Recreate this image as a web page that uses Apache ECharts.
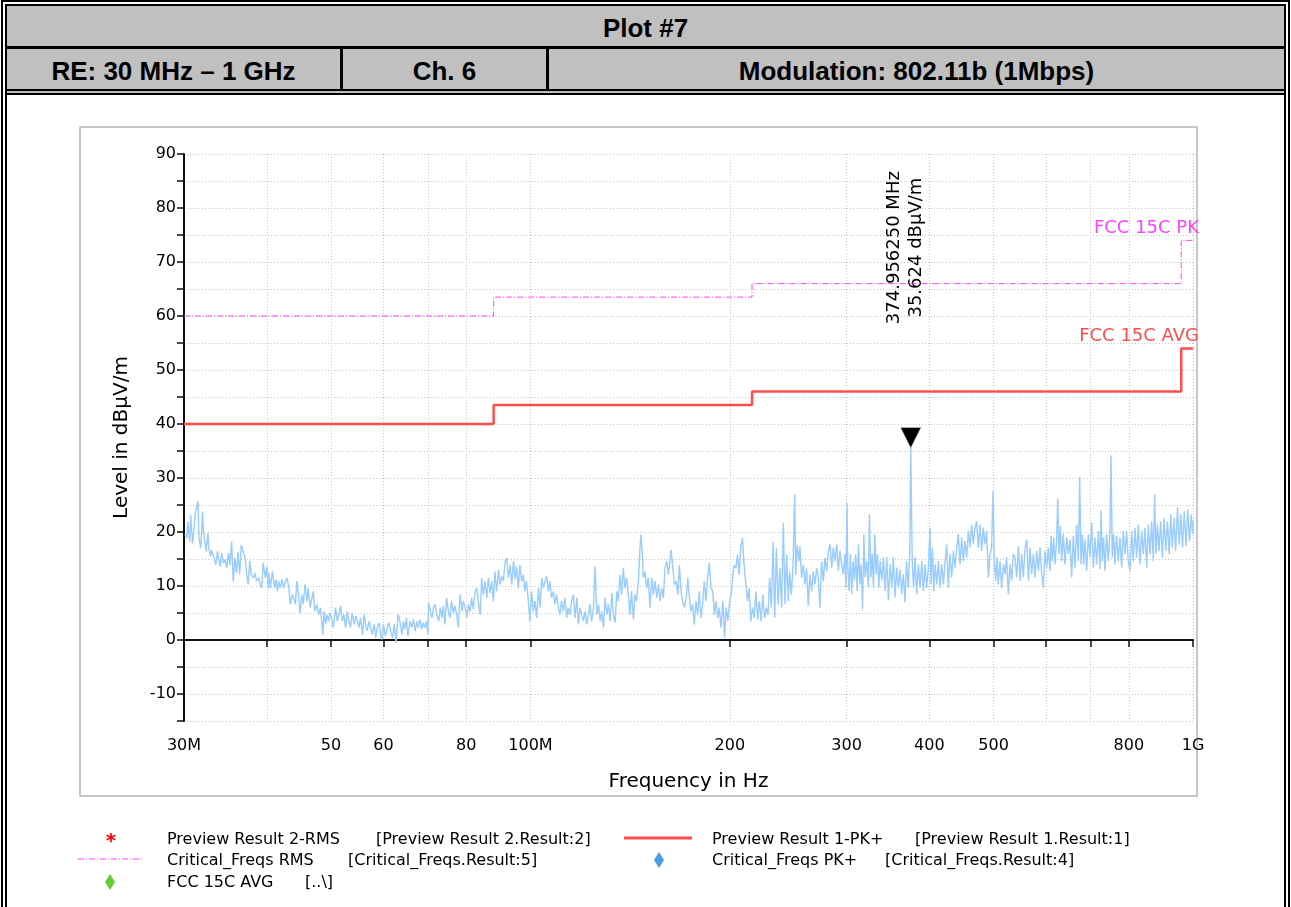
<!DOCTYPE html>
<html>
<head>
<meta charset="utf-8">
<title>Plot #7</title>
<script src="https://cdn.jsdelivr.net/npm/echarts@6/dist/echarts.min.js"></script>
<style>
  html, body { margin: 0; padding: 0; background: #fff; }
  #page { position: relative; width: 1291px; height: 907px; overflow: hidden; }
  #chart { position: absolute; left: 0; top: 0; width: 1291px; height: 907px; }
  #frame {
    position: absolute; left: 1px; top: 0; width: 1277px; height: 930px;
    border: 6px double #000; border-bottom: none; pointer-events: none;
    font-family: 'Liberation Sans', Arial, sans-serif; font-weight: bold; font-size: 26px; color: #000;
  }
  .row1 { height: 40px; line-height: 44px; background: #c0c0c0; text-align: center; border-bottom: 3px solid #000; }
  .row2 { display: flex; height: 40px; background: #c0c0c0; border-bottom: 6px double #000; }
  .cell { line-height: 44px; text-align: center; border-right: 3px solid #000; box-sizing: border-box; }
  .cell.last { border-right: none; flex: 1; }
</style>
</head>
<body>
<div id="page">
  <div id="chart"></div>
  <div id="frame">
    <div class="row1">Plot #7</div>
    <div class="row2">
      <div class="cell" style="width:336px">RE: 30 MHz – 1 GHz</div>
      <div class="cell" style="width:206px">Ch. 6</div>
      <div class="cell last">Modulation: 802.11b (1Mbps)</div>
    </div>
  </div>
</div>
<script>
// spectrum, [MHz, dBuV/m]
var spec30to63 = [
  [30.1,19.5],[30.3,18.9],[30.4,21.9],[30.6,18.2],[30.7,23.2],[30.9,17.9],[31.1,21.3],[31.2,23.5],[31.4,23.8],[31.5,25.7],
  [31.6,18.9],[31.8,17.0],[32.0,23.8],[32.1,20.1],[32.2,18.9],[32.4,16.4],[32.6,19.8],[32.7,17.0],[32.9,15.5],[33.0,16.7],
  [33.1,16.1],[33.3,15.2],[33.5,13.9],[33.7,16.4],[34.0,13.6],[34.2,16.1],[34.4,14.3],[34.6,14.9],[34.8,13.3],[35.0,16.1],
  [35.2,13.9],[35.4,18.2],[35.6,10.9],[35.8,15.2],[36.0,12.4],[36.2,16.4],[36.4,12.1],[36.6,17.6],[36.8,17.6],[37.1,15.2],
  [37.3,12.1],[37.5,10.3],[37.7,14.6],[37.9,12.1],[38.2,11.5],[38.4,12.4],[38.6,10.9],[38.9,11.5],[39.1,10.3],[39.3,9.6],
  [39.5,14.3],[39.8,11.5],[40.0,13.6],[40.2,9.6],[40.3,12.4],[40.5,9.6],[40.8,12.7],[41.1,9.6],[41.3,11.2],[41.5,9.0],
  [41.7,10.9],[41.9,9.6],[42.2,11.2],[42.4,9.6],[42.7,10.9],[42.9,11.5],[43.2,9.6],[43.4,6.6],[43.7,8.4],[43.9,7.8],
  [44.2,6.6],[44.4,10.9],[44.7,7.8],[44.9,5.0],[45.2,8.4],[45.4,6.6],[45.7,10.3],[46.0,7.2],[46.2,9.6],[46.5,6.0],
  [46.8,7.8],[47.0,9.0],[47.3,5.3],[47.6,6.6],[47.9,4.7],[48.2,6.0],[48.4,3.5],[48.6,1.0],[48.8,5.3],[49.1,2.9],
  [49.3,4.7],[49.6,3.5],[49.8,5.0],[50.1,4.1],[50.4,2.3],[50.8,6.0],[51.1,3.5],[51.4,4.7],[51.7,6.3],[52.0,3.5],
  [52.3,4.7],[52.6,2.3],[52.9,5.3],[53.2,3.5],[53.5,2.3],[53.8,5.0],[54.2,2.9],[54.5,4.4],[54.8,3.5],[55.1,2.3],
  [55.4,4.1],[55.8,1.0],[56.1,4.7],[56.4,2.9],[56.7,1.7],[57.1,3.5],[57.4,2.3],[57.7,1.0],[58.1,2.9],[58.4,0.4],
  [58.7,2.3],[59.1,3.2],[59.4,1.0],[59.7,0.1],[60.0,2.9],[60.4,0.7],[60.8,2.3],[61.1,3.2],[61.6,1.4],[61.9,0.4],
  [62.3,2.9],[62.7,-0.5],[63.1,4.7],[63.4,4.1]
];
var spec64to134 = [
  [64.0,1.0],[64.3,3.5],[64.6,2.0],[65.0,4.1],[65.3,0.7],[65.8,3.5],[66.2,2.3],[66.6,3.8],[67.0,1.7],[67.4,3.5],
  [67.7,2.3],[68.1,3.8],[68.5,2.0],[68.9,3.2],[69.3,2.3],[69.7,3.5],[70.0,1.0],[70.2,6.9],[70.6,5.3],[71.0,4.1],
  [71.4,6.0],[71.8,6.6],[72.2,4.7],[72.7,3.5],[73.1,6.0],[73.5,4.1],[73.9,6.3],[74.3,2.9],[74.7,7.8],[75.2,5.3],
  [75.6,4.1],[76.0,7.2],[76.5,5.0],[76.9,6.3],[77.4,4.7],[77.8,2.3],[78.3,8.4],[78.8,5.3],[79.2,7.2],[79.7,6.0],
  [80.2,4.1],[80.6,6.6],[81.1,5.3],[81.5,7.8],[82.0,5.7],[82.5,9.0],[83.0,9.6],[83.5,6.6],[84.0,4.7],[84.4,11.5],
  [84.9,8.4],[85.4,10.9],[85.9,7.8],[86.4,11.5],[86.9,8.7],[87.4,10.9],[87.9,7.2],[88.4,12.7],[88.9,9.0],[89.5,13.0],
  [90.0,10.3],[90.5,11.8],[91.0,10.9],[91.6,14.6],[92.1,15.2],[92.6,11.5],[93.2,13.9],[93.7,10.3],[94.3,14.6],[94.8,11.2],
  [95.3,13.6],[95.9,9.6],[96.4,13.9],[97.0,10.9],[97.5,12.1],[98.1,9.0],[98.6,10.9],[99.2,7.8],[99.8,3.5],[100.4,9.0],
  [101.0,5.3],[101.6,7.2],[102.2,4.1],[102.8,9.6],[103.4,6.0],[104.0,11.5],[104.6,9.6],[105.2,10.9],[105.8,11.8],[106.4,9.0],
  [107.0,10.9],[107.6,7.8],[108.3,9.0],[108.9,6.6],[109.5,8.4],[110.2,6.0],[110.8,4.7],[111.4,7.2],[112.1,5.3],[112.7,7.8],
  [113.4,4.1],[114.0,6.0],[114.7,4.7],[115.4,7.2],[116.1,8.4],[116.8,4.1],[117.5,7.8],[118.1,2.9],[118.8,6.0],[119.5,4.7],
  [120.2,3.5],[120.9,5.3],[121.6,2.9],[122.3,4.7],[123.0,6.6],[123.7,3.5],[124.5,6.0],[125.2,13.6],[125.9,4.7],[126.7,6.6],
  [127.4,3.5],[128.1,5.3],[128.9,2.3],[129.6,7.8],[130.4,4.7],[131.1,6.6],[131.9,3.5],[132.7,8.7],[133.4,4.7]
];
var spec134to282 = [
  [134.2,3.2],[135.0,9.0],[135.7,7.2],[136.5,12.1],[137.3,8.4],[138.1,13.3],[138.9,9.6],[139.7,11.5],[140.5,8.4],[141.3,4.7],
  [142.1,9.0],[143.0,3.8],[143.8,8.4],[144.6,7.2],[145.5,10.9],[146.3,17.0],[146.8,19.5],[147.5,15.8],[148.0,11.5],[148.9,12.7],
  [149.8,9.6],[150.6,11.5],[151.5,6.0],[152.4,11.5],[153.3,8.4],[154.2,10.9],[155.1,7.8],[156.0,10.3],[156.9,7.2],[157.8,9.6],
  [158.7,7.8],[159.6,13.3],[160.6,14.6],[161.5,12.1],[162.4,14.6],[163.0,16.7],[163.9,13.9],[164.9,10.3],[165.9,10.9],[166.9,8.4],
  [167.8,13.9],[168.8,9.0],[169.8,7.2],[170.8,6.0],[171.8,7.8],[172.8,11.5],[173.8,7.8],[174.7,5.3],[175.7,6.6],[176.7,2.9],
  [177.8,7.2],[178.8,4.7],[179.8,9.0],[180.8,4.1],[181.9,6.6],[182.9,10.9],[184.0,7.2],[185.1,11.5],[186.2,14.3],[187.3,9.6],
  [188.4,9.0],[189.5,4.7],[190.6,7.2],[191.7,4.1],[192.8,6.0],[193.9,2.3],[195.2,7.2],[196.3,0.4],[197.4,6.0],[198.6,3.5],
  [199.8,7.2],[200.9,8.4],[202.0,12.1],[203.1,13.9],[204.2,13.3],[205.4,15.8],[206.5,12.1],[207.7,17.0],[208.9,18.9],[210.1,13.9],
  [211.4,10.3],[212.6,7.2],[213.8,9.6],[215.1,3.5],[216.3,6.0],[217.6,4.1],[218.9,9.0],[220.2,3.8],[221.5,7.2],[222.9,3.5],
  [224.2,8.4],[225.6,4.1],[226.9,6.0],[228.3,4.7],[229.6,11.5],[231.0,6.0],[232.4,18.2],[233.7,4.1],[235.1,17.0],[236.5,6.6],
  [237.9,13.3],[239.4,6.0],[240.8,21.6],[242.2,6.6],[243.6,15.8],[245.0,7.2],[246.1,12.7],[247.6,8.4],[249.1,13.9],[250.5,27.0],
  [251.4,12.1],[252.6,17.6],[254.1,14.6],[255.1,17.3],[256.6,11.5],[258.1,13.9],[259.6,10.3],[261.1,13.3],[262.6,6.3],[264.1,12.1],
  [265.7,9.0],[267.2,12.7],[268.8,10.3],[270.4,13.3],[271.9,11.5],[273.5,6.0],[275.1,14.6],[276.7,10.9],[278.3,15.2],[280.0,12.7],
  [281.6,16.4]
];
var spec283to536 = [
  [283.2,17.7],[284.9,13.4],[286.5,17.1],[288.2,14.6],[289.9,17.7],[291.5,12.8],[293.2,16.5],[294.9,14.0],[296.6,12.2],[298.3,15.9],
  [299.3,9.7],[300.4,25.4],[301.1,14.6],[302.5,9.1],[304.0,15.9],[305.4,8.5],[306.8,14.6],[308.3,11.0],[309.7,15.9],[311.2,9.1],
  [312.7,17.7],[314.1,10.3],[315.6,14.0],[317.1,5.7],[318.6,19.6],[319.9,11.6],[321.8,14.6],[323.7,9.7],[324.8,23.3],[326.4,11.6],
  [327.9,15.9],[329.4,9.7],[330.9,19.6],[332.5,12.2],[334.0,15.9],[335.6,9.7],[337.1,14.6],[339.1,11.0],[341.0,15.3],[343.0,9.1],
  [345.0,15.3],[347.0,7.3],[349.0,14.0],[351.0,9.7],[353.0,15.3],[355.0,7.9],[357.1,13.4],[359.1,9.7],[361.2,13.1],[363.3,8.5],
  [365.4,12.2],[367.5,7.0],[369.6,14.6],[371.7,9.7],[373.8,16.5],[374.956,35.624],[376.9,14.6],[378.7,9.7],[380.6,15.3],[382.8,8.5],
  [385.1,14.0],[387.3,9.7],[389.6,14.6],[391.8,9.1],[394.1,14.0],[396.4,9.7],[398.7,13.4],[400.9,20.8],[402.3,10.3],[404.3,17.1],
  [406.2,9.1],[408.1,14.0],[410.5,10.3],[412.8,14.6],[415.2,9.7],[417.6,14.0],[420.1,10.3],[422.5,14.6],[424.9,17.7],[427.3,9.7],
  [429.7,15.9],[432.2,11.6],[434.8,16.5],[437.3,13.4],[439.9,17.1],[442.4,19.6],[445.0,14.0],[447.6,19.0],[450.2,14.6],[452.8,18.4],
  [455.4,15.3],[458.1,20.2],[460.7,17.1],[463.4,21.4],[466.0,17.7],[468.7,20.8],[471.5,22.0],[474.2,17.1],[477.0,21.4],[479.8,16.5],
  [482.5,20.8],[485.3,17.7],[488.1,20.2],[491.0,11.6],[493.9,15.9],[496.7,17.1],[499.0,27.6],[501.3,14.6],[503.7,11.0],[506.0,15.3],
  [508.3,10.3],[511.3,14.6],[514.3,9.7],[517.3,14.0],[520.3,12.2],[523.2,15.3],[526.3,8.5],[529.4,14.0],[532.5,11.0],[535.6,15.9]
];
var spec539to1000 = [
  [538.7,15.3],[541.9,11.6],[545.1,17.4],[548.3,11.0],[551.4,15.9],[554.6,11.6],[557.8,16.8],[561.1,18.6],[564.4,11.0],[567.6,17.1],
  [570.9,12.2],[574.2,15.9],[577.5,11.6],[580.9,16.5],[584.3,12.8],[587.7,17.1],[591.1,12.2],[594.5,9.7],[597.9,16.5],[601.4,13.4],
  [604.9,17.1],[608.5,12.8],[610.6,19.3],[613.4,14.6],[616.2,19.0],[619.0,14.0],[622.6,18.4],[624.8,26.2],[627.7,15.9],[630.6,21.1],
  [633.6,14.6],[637.2,19.6],[640.9,14.0],[644.7,19.0],[648.4,15.9],[652.2,18.6],[655.9,11.6],[659.7,19.3],[663.5,13.4],[667.4,21.4],
  [671.3,14.6],[674.5,30.2],[677.6,14.0],[680.7,19.6],[683.9,14.0],[687.0,18.6],[691.1,12.8],[695.1,19.6],[699.2,15.3],[703.2,21.7],
  [707.3,13.4],[711.3,19.0],[715.5,14.0],[719.7,20.2],[723.8,13.1],[726.3,24.0],[729.7,14.6],[733.0,19.0],[736.4,12.8],[740.7,19.6],
  [745.1,14.6],[749.4,20.2],[752.0,34.2],[755.5,15.3],[759.0,19.6],[762.4,14.0],[766.9,19.3],[771.4,14.6],[775.9,19.0],[780.4,13.4],
  [784.9,20.2],[789.4,15.9],[794.0,20.2],[798.7,14.6],[803.3,12.8],[808.0,20.2],[812.6,14.6],[817.3,20.8],[822.1,15.3],[826.9,21.4],
  [831.8,14.0],[836.6,20.2],[841.4,15.9],[846.2,20.8],[851.2,13.4],[856.2,21.4],[861.2,15.9],[866.1,22.0],[871.1,14.6],[875.1,27.0],
  [879.2,15.9],[883.4,21.4],[888.5,16.5],[893.7,22.0],[898.9,15.3],[904.5,22.6],[909.8,16.5],[915.1,22.0],[920.5,15.9],[925.8,23.3],
  [930.6,17.1],[936.4,22.6],[941.3,16.5],[947.7,24.6],[953.2,17.7],[958.8,23.3],[964.3,17.1],[970.1,23.9],[976.0,17.4],[982.0,24.2],
  [987.9,18.3],[994.0,23.3],[998.7,19.6],[1000,22.0]
];

// FCC 15C limits (step lines)
var limitMHz = [30, 88, 88, 216, 216, 960, 960, 1000];
var avgLimit = [40, 40, 43.5, 43.5, 46, 46, 54, 54];
var pkLimit = [60, 60, 63.5, 63.5, 66, 66, 74, 74];

// peak marker
var markerMHz = 374.95625;
var markerDb = 35.624;

// axis ticks
var xTickMHz = [30, 40, 50, 60, 70, 80, 100, 200, 300, 400, 500, 600, 700, 800, 1000];
var xLabelMHz = [30, 50, 60, 80, 100, 200, 300, 400, 500, 800, 1000];
var xLabelText = ['30M', '50', '60', '80', '100M', '200', '300', '400', '500', '800', '1G'];

var FONT = 'DejaVu Sans';
var lg = Math.log10;

var spectrum = spec30to63.concat(spec64to134, spec134to282, spec283to536, spec539to1000)
  .map(function (p) { return [lg(p[0]), p[1]]; });

// limit line points, the last one carries the limit name
function limitData(vals, label, color) {
  return limitMHz.map(function (f, i) {
    var item = { value: [lg(f), vals[i]] };
    if (i === limitMHz.length - 1) {
      item.label = {
        show: true, formatter: label, position: 'top', align: 'right', offset: [6, 0], distance: 3,
        color: color, fontFamily: FONT, fontSize: 18
      };
    }
    return item;
  });
}

function diamond(cx, cy, color) {
  return {
    type: 'polygon', silent: true,
    shape: { points: [[cx, cy - 8], [cx + 5, cy], [cx, cy + 8], [cx - 5, cy]] },
    style: { fill: color }
  };
}
function legendText(x, y, t) {
  return {
    type: 'text', x: x, y: y, silent: true,
    style: { text: t, fill: '#000', font: '16px "DejaVu Sans"', verticalAlign: 'middle' }
  };
}

var decor = [
  { type: 'rect', z: -10, silent: true,
    shape: { x: 80, y: 127, width: 1117, height: 669 },
    style: { fill: '#fff', stroke: '#b4b4b4', lineWidth: 1.5 } },
  { type: 'text', x: 111, y: 842, silent: true,
    style: { text: '*', fill: '#ff0000', font: 'bold 20px "DejaVu Sans"', align: 'center', verticalAlign: 'middle' } },
  legendText(167, 840, 'Preview Result 2-RMS'),
  legendText(376, 840, '[Preview Result 2.Result:2]'),
  { type: 'line', silent: true, shape: { x1: 624, y1: 838, x2: 692, y2: 838 },
    style: { stroke: '#ff4d4d', lineWidth: 3 } },
  legendText(712, 840, 'Preview Result 1-PK+'),
  legendText(915, 840, '[Preview Result 1.Result:1]'),
  { type: 'line', silent: true, shape: { x1: 78, y1: 859, x2: 144, y2: 859 },
    style: { stroke: '#ff44ff', lineWidth: 1, lineDash: [6, 2, 1, 2] } },
  legendText(167, 861, 'Critical_Freqs RMS'),
  legendText(348, 861, '[Critical_Freqs.Result:5]'),
  diamond(659, 860, '#4a9be0'),
  legendText(712, 861, 'Critical_Freqs PK+'),
  legendText(885, 861, '[Critical_Freqs.Result:4]'),
  diamond(110, 882, '#66cc33'),
  legendText(167, 883, 'FCC 15C AVG'),
  legendText(305, 883, '[..\\]')
];

var chart = echarts.init(document.getElementById('chart'));

var option = {
  animation: false,
  textStyle: { fontFamily: FONT },
  graphic: decor,
  grid: { left: 184, top: 154, width: 1009, height: 567, containLabel: false },
  xAxis: {
    type: 'value',
    min: lg(30),
    max: 3,
    name: 'Frequency in Hz',
    nameLocation: 'middle',
    nameGap: 51,
    nameTextStyle: { fontSize: 20, color: '#000', fontFamily: FONT },
    axisLine: { show: true, lineStyle: { color: '#111', width: 2 } },
    axisTick: { show: true, length: 7, customValues: xTickMHz.map(lg), lineStyle: { color: '#111', width: 1.5 } },
    axisLabel: {
      customValues: xLabelMHz.map(lg),
      margin: 17, fontSize: 16, color: '#000', fontFamily: FONT, hideOverlap: false,
      formatter: function (v) {
        var f = Math.round(Math.pow(10, v));
        var i = xLabelMHz.indexOf(f);
        return i >= 0 ? xLabelText[i] : '';
      }
    },
    splitLine: { show: true, lineStyle: { color: '#c4c4c4', width: 1, type: [1, 2] } }
  },
  yAxis: {
    type: 'value',
    min: -15,
    max: 90,
    interval: 5,
    name: 'Level in dBµV/m',
    nameLocation: 'middle',
    nameGap: 52,
    nameTextStyle: { fontSize: 20, color: '#000', fontFamily: FONT },
    axisLine: { show: true, lineStyle: { color: '#111', width: 2 } },
    axisTick: { show: true, length: 7, lineStyle: { color: '#111', width: 1.5 } },
    axisLabel: {
      margin: 8, fontSize: 16, color: '#000', fontFamily: FONT,
      formatter: function (v) { return v % 10 === 0 ? String(v) : ''; }
    },
    splitLine: { show: true, lineStyle: { color: '#c4c4c4', width: 1, type: [1, 2] } }
  },
  series: [
    {
      name: 'Preview', type: 'line', data: spectrum, showSymbol: false, silent: true,
      lineStyle: { color: '#99ccff', width: 1.4 }, z: 2
    },
    {
      name: 'FCC 15C AVG', type: 'line', data: limitData(avgLimit, 'FCC 15C AVG', '#ff4d4d'),
      showSymbol: true, symbol: 'circle', symbolSize: 0, silent: true,
      lineStyle: { color: '#ff4d4d', width: 2.5 }, z: 3
    },
    {
      name: 'FCC 15C PK', type: 'line', data: limitData(pkLimit, 'FCC 15C PK', '#ff44ff'),
      showSymbol: true, symbol: 'circle', symbolSize: 0, silent: true,
      lineStyle: { color: '#ff44ff', width: 1, type: [6, 2, 1, 2] }, z: 3
    },
    {
      name: 'Marker', type: 'scatter', data: [[lg(markerMHz), markerDb]], silent: true,
      symbol: 'triangle', symbolRotate: 180, symbolSize: [20, 20], symbolOffset: [0, -10],
      itemStyle: { color: '#000', opacity: 1, borderColor: '#888', borderWidth: 0.5 }, z: 5
    }
  ]
};
chart.setOption(option);

// rotated marker readout above the peak
var mp = chart.convertToPixel({ gridIndex: 0 }, [lg(markerMHz), markerDb]);
chart.setOption({
  graphic: decor.concat([{
    type: 'text', x: mp[0] - 5, y: mp[1] - 200, rotation: Math.PI / 2, silent: true,
    style: {
      text: markerMHz.toFixed(6) + ' MHz\n' + markerDb.toFixed(3) + ' dBµV/m',
      fill: '#000', font: '18px "DejaVu Sans"', align: 'center', verticalAlign: 'middle', lineHeight: 22
    }
  }])
});
</script>
</body>
</html>
